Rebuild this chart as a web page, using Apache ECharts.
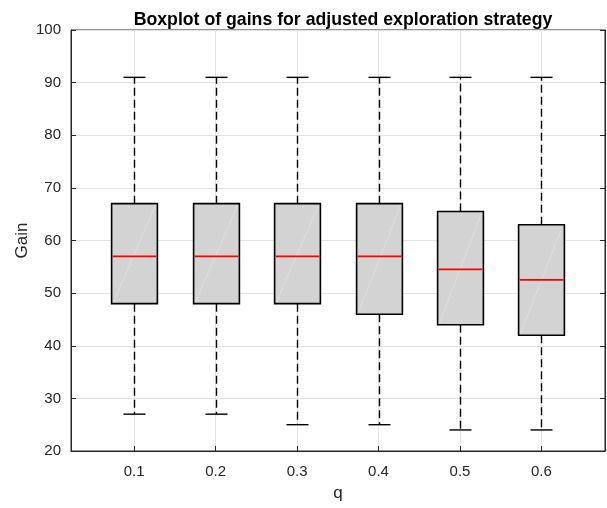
<!DOCTYPE html>
<html><head><meta charset="utf-8">
<script src="https://cdn.jsdelivr.net/npm/echarts@6/dist/echarts.min.js"></script>
<style>html,body{margin:0;padding:0;background:#fff}#c{width:607px;height:508px}</style>
</head><body><div id="c"></div>
<script>
const categories = ['0.1','0.2','0.3','0.4','0.5','0.6'];
const mins    = [27, 27, 25, 25, 24, 24];
const q1s     = [48, 48, 48, 46, 44, 42];
const medians = [57, 57, 57, 57, 54.5, 52.5];
const q3s     = [67, 67, 67, 67, 65.5, 63];
const maxs    = [91, 91, 91, 91, 91, 91];
const yTicks  = [20, 30, 40, 50, 60, 70, 80, 90, 100];

const data = categories.map((c, i) => [i + 1, mins[i], q1s[i], medians[i], q3s[i], maxs[i]]);
const FONT = 'Liberation Sans, Arial, sans-serif';
const chart = echarts.init(document.getElementById('c'));
function renderItem(params, api) {
  const x = api.value(0);
  const unit = api.size([1, 0])[0];
  const bw = unit * 0.562, cw = unit * 0.27;
  const pMin = api.coord([x, api.value(1)]);
  const pQ1 = api.coord([x, api.value(2)]);
  const pMed = api.coord([x, api.value(3)]);
  const pQ3 = api.coord([x, api.value(4)]);
  const pMax = api.coord([x, api.value(5)]);
  const cx = Math.round(pMed[0]) + 0.5;
  const dash = {stroke: '#000', lineWidth: 1.4, lineDash: [8, 4]};
  const solid = {stroke: '#000', lineWidth: 1.4};
  return {type: 'group', children: [
    {type: 'line', shape: {x1: cx, y1: pQ3[1], x2: cx, y2: pMax[1]}, style: dash},
    {type: 'line', shape: {x1: cx, y1: pQ1[1], x2: cx, y2: pMin[1]}, style: dash},
    {type: 'line', shape: {x1: cx - cw/2, y1: pMax[1], x2: cx + cw/2, y2: pMax[1]}, style: solid},
    {type: 'line', shape: {x1: cx - cw/2, y1: pMin[1], x2: cx + cw/2, y2: pMin[1]}, style: solid},
    {type: 'rect', shape: {x: cx - bw/2, y: pQ3[1], width: bw, height: pQ1[1] - pQ3[1]},
      style: {fill: '#d3d3d3', stroke: '#000', lineWidth: 1.6}},
    {type: 'line', shape: {x1: cx - bw/2 + 2, y1: pQ1[1] - 2, x2: cx + bw/2 - 2, y2: pQ3[1] + 2},
      style: {stroke: 'rgba(255,255,255,0.3)', lineWidth: 0.8}},
    {type: 'line', shape: {x1: cx - bw/2 + 1, y1: pMed[1], x2: cx + bw/2 - 1, y2: pMed[1]},
      style: {stroke: '#ff0000', lineWidth: 1.8}}
  ]};
}
chart.setOption({
  animation: false,
  title: {text: 'Boxplot of gains for adjusted exploration strategy', left: 338, top: 6, textAlign: 'center',
    textStyle: {fontFamily: FONT, fontSize: 17.7, fontWeight: 'bold', color: '#000'}},
  grid: {left: 71, right: 2, top: 30, bottom: 57, show: true, borderColor: '#262626', borderWidth: 1, backgroundColor: 'transparent'},
  xAxis: {type: 'value', min: 0.225, max: 6.78,
    name: 'q', nameLocation: 'middle', nameGap: 34, nameMoveOverlap: false,
    nameTextStyle: {fontFamily: FONT, fontSize: 17, color: '#262626'},
    axisLine: {show: true, lineStyle: {color: '#262626'}},
    axisTick: {show: true, inside: true, length: 5, customValues: [1,2,3,4,5,6], lineStyle: {color: '#262626'}},
    axisLabel: {customValues: [1,2,3,4,5,6], formatter: v => categories[Math.round(v) - 1] || '', margin: 13,
      fontFamily: FONT, fontSize: 15, color: '#262626'},
    splitLine: {show: true, lineStyle: {color: '#e3e3e3', width: 1}}
  },
  yAxis: [{type: 'value', min: 20, max: 100, interval: 10,
    name: 'Gain', nameLocation: 'middle', nameGap: 40, nameMoveOverlap: false,
    nameTextStyle: {fontFamily: FONT, fontSize: 17, color: '#262626'},
    axisLine: {show: true, lineStyle: {color: '#262626'}},
    axisTick: {show: true, inside: true, length: 5, lineStyle: {color: '#262626'}},
    axisLabel: {margin: 10, fontFamily: FONT, fontSize: 15, color: '#262626', formatter: v => yTicks.includes(v) ? String(v) : ''},
    splitLine: {show: true, lineStyle: {color: '#e3e3e3', width: 1}}
  }, {type: 'value', min: 20, max: 100, interval: 10, position: 'right',
    axisLine: {show: true, lineStyle: {color: '#262626'}},
    axisTick: {show: true, inside: true, length: 5, lineStyle: {color: '#262626'}},
    axisLabel: {show: false}, splitLine: {show: false}
  }],
  series: [{type: 'custom', renderItem: renderItem, data: data, encode: {x: 0, y: [1,2,3,4,5]}, z: 5, clip: false}]
});
</script></body></html>
